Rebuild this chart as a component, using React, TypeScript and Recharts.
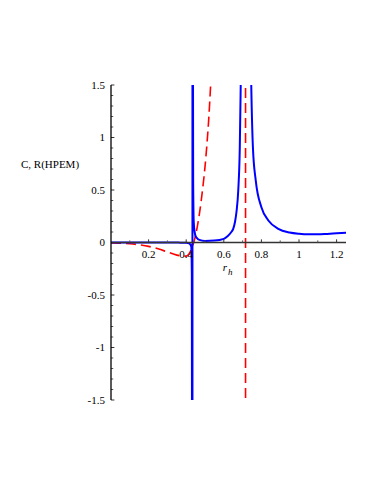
import React from 'react';
import { LineChart, Line, XAxis, YAxis, ReferenceLine, ReferenceDot } from 'recharts';

// Heat capacity C (blue, solid)
const blueX = [0, 0.1, 0.2, 0.3, 0.36, 0.4, 0.415, 0.422, 0.427, 0.43, 0.4315, 0.433, 0.4335, 0.435, 0.437, 0.44, 0.445, 0.45, 0.456, 0.47, 0.5, 0.55, 0.6, 0.62, 0.64, 0.65, 0.66, 0.668, 0.677, 0.685, 0.69, 0.7, 0.716, 0.73, 0.74, 0.746, 0.755, 0.77, 0.8, 0.837, 0.89, 0.95, 1.0, 1.05, 1.1, 1.15, 1.2, 1.25];
const blueY = [0, 0, 0, 0, -0.001, -0.003, -0.008, -0.02, -0.04, -0.3, -3, -80, 80, 3, 0.6, 0.2, 0.1, 0.06, 0.045, 0.025, 0.015, 0.018, 0.035, 0.06, 0.1, 0.13, 0.2, 0.3, 0.5, 0.9, 1.5, 3, 50, 5, 2.2, 1.5, 0.9, 0.59, 0.335, 0.21, 0.13, 0.095, 0.083, 0.078, 0.078, 0.082, 0.087, 0.092];

// Curvature R(HPEM) (red, dashed)
const redX = [0, 0.05, 0.1, 0.15, 0.2, 0.25, 0.3, 0.35, 0.4, 0.415, 0.43, 0.44, 0.45, 0.46, 0.47, 0.48, 0.49, 0.5, 0.51, 0.52, 0.53, 0.55, 0.6, 0.65, 0.7, 0.7155, 0.7158, 0.73, 0.8, 1.0, 1.25];
const redY = [-0.004, -0.006, -0.012, -0.022, -0.037, -0.06, -0.09, -0.12, -0.13, -0.11, -0.05, 0, 0.07, 0.16, 0.27, 0.4, 0.55, 0.72, 0.93, 1.18, 1.5, 2.2, 4, 8, 30, 200, -200, -30, -8, -4, -3];

const xTickValues = [0.2, 0.4, 0.6, 0.8, 1, 1.2];
const xTickLabels = ['0.2', '0.4', '0.6', '0.8', '1', '1.2'];
const xMinorTicks = [0.1, 0.3, 0.5, 0.7, 0.9, 1.1];
const yTickValues = [-1.5, -1, -0.5, 0, 0.5, 1, 1.5];
const yTickLabels = ['-1.5', '-1', '-0.5', '0', '0.5', '1', '1.5'];
const yMinorTicks = [-1.4, -1.3, -1.2, -1.1, -0.9, -0.8, -0.7, -0.6, -0.4, -0.3, -0.2, -0.1, 0.1, 0.2, 0.3, 0.4, 0.6, 0.7, 0.8, 0.9, 1.1, 1.2, 1.3, 1.4];

const yAxisTitle = 'C, R(HPEM)';
const xAxisTitle = 'r';
const xAxisSub = 'h';

const blueData = blueX.map((x, i) => ({ x, y: blueY[i] }));
const redData = redX.map((x, i) => ({ x, y: redY[i] }));

const FONT = '"Liberation Serif", "Times New Roman", serif';

export default function App() {
  const yLabelMap = (v: number) => {
    const i = yTickValues.indexOf(v);
    return i >= 0 ? yTickLabels[i] : '';
  };
  return (
    <div style={{ position: 'absolute', left: 0, top: 0, width: 374, height: 484, background: '#fff' }}>
      <LineChart width={374} height={484} margin={{ top: 85, right: 28, bottom: 84, left: 71 }}>
        <XAxis type="number" dataKey="x" domain={[0, 1.25]} allowDataOverflow hide />
        <YAxis
          type="number"
          domain={[-1.5, 1.5]}
          allowDataOverflow
          ticks={yTickValues}
          tickFormatter={yLabelMap}
          width={40}
          interval={0}
          axisLine={{ stroke: '#000', strokeWidth: 1.3 }}
          tickLine={false}
          tickSize={3}
          tickMargin={3}
          tick={{ fontFamily: FONT, fontSize: 11, fill: '#000' }}
          label={(props: any) => {
            const vb = props.viewBox || { x: 71, y: 85 };
            return (
              <text x={vb.x - 50} y={vb.y + 83} fontFamily={FONT} fontSize={11} fill="#000">
                {yAxisTitle}
              </text>
            );
          }}
        />
        {yMinorTicks.map((v) => (
          <ReferenceLine key={'ym' + v} segment={[{ x: 0, y: v }, { x: 0.012, y: v }]} stroke="#555" strokeWidth={1} ifOverflow="visible" />
        ))}
        {yTickValues.map((v) => (
          <ReferenceLine key={'yt' + v} segment={[{ x: 0, y: v }, { x: 0.018, y: v }]} stroke="#333" strokeWidth={1} ifOverflow="visible" />
        ))}
        <Line data={redData} dataKey="y" type="monotone" stroke="#ff0000" strokeWidth={1.6} strokeDasharray="10 5" dot={false} activeDot={false} isAnimationActive={false} />
        <Line data={blueData} dataKey="y" type="monotone" stroke="#0000ff" strokeWidth={2} dot={false} activeDot={false} isAnimationActive={false} />
        <ReferenceLine y={0} stroke="#333" strokeWidth={1.3} ifOverflow="visible" />
        {xMinorTicks.map((v) => (
          <ReferenceLine key={'xm' + v} segment={[{ x: v, y: 0 }, { x: v, y: 0.02 }]} stroke="#555" strokeWidth={1} ifOverflow="visible" />
        ))}
        {xTickValues.map((v) => (
          <ReferenceLine key={'xt' + v} segment={[{ x: v, y: 0 }, { x: v, y: 0.03 }]} stroke="#333" strokeWidth={1} ifOverflow="visible" />
        ))}
        {xTickValues.map((v, i) => (
          <ReferenceDot
            key={'xl' + v}
            x={v}
            y={0}
            r={0}
            ifOverflow="visible"
            shape={(p: any) => (
              <text x={p.cx} y={p.cy + 15} textAnchor="middle" fontFamily={FONT} fontSize={11} fill="#000">
                {xTickLabels[i]}
              </text>
            )}
          />
        ))}
        <ReferenceDot
          x={0.6}
          y={0}
          r={0}
          ifOverflow="visible"
          shape={(p: any) => (
            <text x={p.cx - 1} y={p.cy + 28} fontFamily={FONT} fontSize={11} fontStyle="italic" fill="#000">
              {xAxisTitle}
              <tspan fontSize={9} dx={1} dy={4}>{xAxisSub}</tspan>
            </text>
          )}
        />
      </LineChart>
    </div>
  );
}
